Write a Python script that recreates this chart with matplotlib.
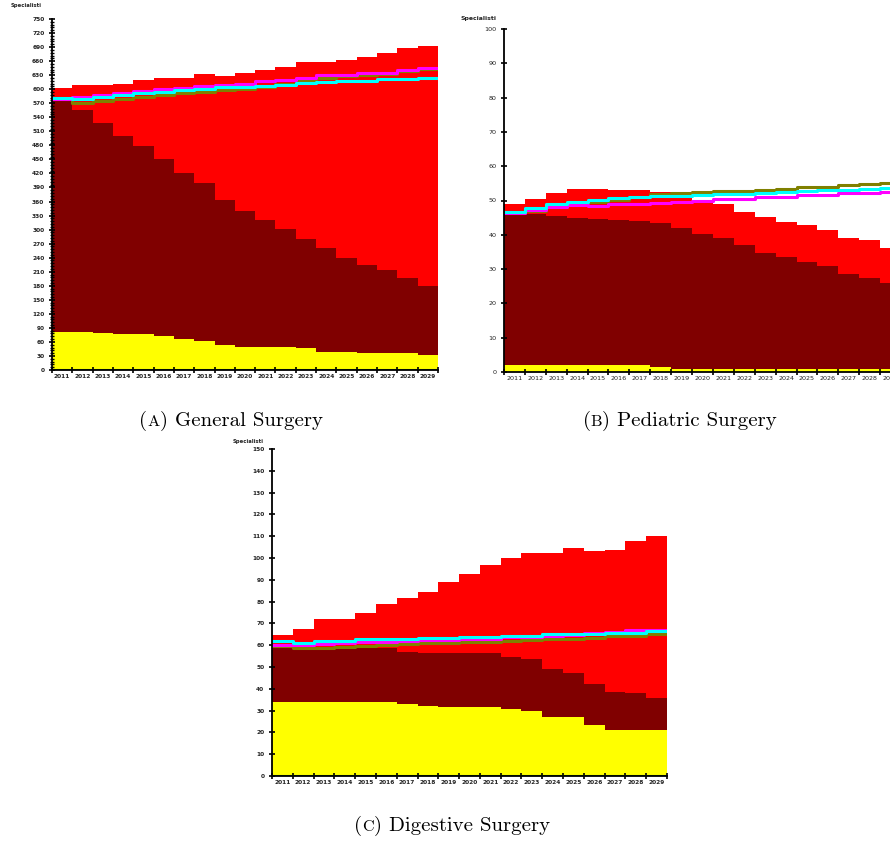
import numpy as np
import matplotlib
matplotlib.use("Agg")
import matplotlib.pyplot as plt
from matplotlib.ticker import MultipleLocator

years = [str(y) for y in range(2011, 2030)]

# General Surgery (specialists per year)
gen_yellow = [82, 82, 78, 76, 76, 73, 66, 63, 53, 49, 49, 49, 46, 39, 39, 36, 36, 36, 32]
gen_maroon = [578, 556, 528, 501, 479, 450, 422, 399, 363, 340, 321, 301, 280, 260, 240, 224, 214, 196, 179]
gen_red = [602, 608, 608, 612, 619, 625, 625, 632, 628, 635, 642, 648, 659, 659, 662, 668, 678, 689, 693]
gen_cyan = [582, 578, 584, 588, 591, 595, 598, 601, 604, 605, 607, 609, 613, 616, 617, 617, 622, 622, 625]
gen_olive = [578, 571, 575, 580, 584, 588, 592, 595, 598, 601, 605, 612, 620, 624, 628, 631, 633, 638, 643]
gen_magenta = [580, 584, 588, 592, 596, 600, 603, 606, 610, 612, 617, 619, 625, 630, 630, 635, 635, 641, 646]

# Pediatric Surgery
ped_yellow = [2, 2, 2, 2, 2, 2, 2, 1.5, 1, 1, 1, 1, 1, 1, 1, 1, 1, 1, 1]
ped_maroon = [46.2, 46.1, 45.6, 45.0, 44.6, 44.4, 43.9, 43.3, 41.9, 40.1, 39.2, 37.0, 34.7, 33.4, 32.1, 30.8, 28.7, 27.3, 26.0]
ped_red = [49.1, 50.3, 52.1, 53.4, 53.4, 53.0, 53.0, 52.5, 51.8, 49.6, 49.1, 46.7, 45.1, 43.7, 42.8, 41.5, 39.2, 38.4, 36.2]
ped_cyan = [46.7, 47.9, 48.9, 49.7, 50.2, 50.7, 51.1, 51.3, 51.4, 51.6, 51.9, 52.0, 52.3, 52.6, 52.8, 53.0, 53.2, 53.4, 53.6]
ped_olive = [46.5, 46.9, 48.1, 49.1, 49.5, 50.1, 50.9, 51.9, 52.2, 52.4, 52.8, 52.9, 53.2, 53.4, 53.8, 54.0, 54.4, 54.8, 55.1]
ped_magenta = [46.4, 47.1, 48.0, 48.6, 48.5, 48.9, 48.9, 49.2, 49.6, 50.0, 50.3, 50.5, 50.9, 51.1, 51.5, 51.7, 52.1, 52.3, 52.6]

# Digestive Surgery
dig_yellow = [33.8, 33.8, 33.8, 33.8, 33.8, 33.8, 33.2, 32.0, 31.8, 31.8, 31.8, 30.8, 30.0, 27.2, 27.2, 23.3, 21.1, 21.1, 21.1]
dig_maroon = [59.4, 59.4, 59.4, 59.4, 59.1, 58.6, 57.1, 56.3, 56.3, 56.3, 56.3, 54.8, 53.6, 49.3, 47.4, 42.1, 38.6, 38.0, 36.0]
dig_red = [64.9, 67.5, 72.2, 72.2, 75.0, 79.0, 81.6, 84.3, 89.1, 92.6, 96.6, 99.8, 102.5, 102.5, 104.4, 103.2, 103.8, 107.7, 110.0]
dig_cyan = [61.8, 60.9, 61.8, 61.8, 62.7, 62.7, 62.7, 63.4, 63.4, 63.7, 63.7, 64.4, 64.4, 65.2, 65.2, 65.2, 65.8, 65.8, 66.6]
dig_olive = [59.5, 58.5, 58.5, 59.4, 59.7, 60.1, 60.6, 60.9, 60.9, 61.5, 61.5, 62.1, 62.4, 62.9, 62.9, 63.4, 64.0, 64.2, 65.1]
dig_magenta = [60.0, 60.3, 60.5, 60.9, 61.4, 61.4, 61.7, 62.2, 62.4, 62.8, 63.0, 63.6, 63.8, 64.4, 64.6, 65.6, 66.0, 66.9, 67.0]

W, H = 890, 842
fig = plt.figure(figsize=(W / 100, H / 100), dpi=100)


def px_axes(x0, x1, y_top, y_bottom):
    # axes box given in pixel coordinates measured from the top-left corner
    return fig.add_axes([x0 / W, (H - y_bottom) / H, (x1 - x0) / W, (y_bottom - y_top) / H])


def steps(vals):
    return np.append(vals, vals[-1])


def draw_panel(ax, yellow, maroon, red, cyan, olive, magenta, ymax, ystep, yminor,
               zero_line, lab_size, bold):
    x = np.arange(len(years) + 1)
    ax.fill_between(x, 0, steps(yellow), step="post", color="#ffff00", lw=0)
    ax.fill_between(x, steps(yellow), steps(maroon), step="post", color="#800000", lw=0)
    ax.fill_between(x, steps(maroon), steps(red), step="post", color="#ff0000", lw=0)
    if zero_line:
        ax.plot([0, len(years)], [0, 0], color="#008000", lw=2.2, zorder=3)
    ax.step(x, steps(olive), where="post", color="#808000", lw=2.2, zorder=4)
    ax.step(x, steps(magenta), where="post", color="#ff00ff", lw=2.2, zorder=5)
    ax.step(x, steps(cyan), where="post", color="#00ffff", lw=2.2, zorder=6)

    ax.set_xlim(0, len(years))
    ax.set_ylim(0, ymax)
    for s in ["top", "right"]:
        ax.spines[s].set_visible(False)
    for s in ["left", "bottom"]:
        ax.spines[s].set_linewidth(1.3)
        ax.spines[s].set_zorder(7)

    weight = "bold" if bold else "normal"
    ax.set_xticks(np.arange(len(years) + 1))
    ax.set_xticklabels([])
    ax.set_xticks(np.arange(len(years)) + 0.5, minor=True)
    ax.set_xticklabels(years, minor=True, fontsize=lab_size, fontweight=weight, color="#222222")
    ax.tick_params(axis="x", which="major", direction="inout", length=5, width=1.2)
    ax.tick_params(axis="x", which="minor", length=0, pad=3)

    ax.yaxis.set_major_locator(MultipleLocator(ystep))
    if yminor:
        ax.yaxis.set_minor_locator(MultipleLocator(yminor))
        ax.tick_params(axis="y", which="minor", direction="inout", length=3, width=1)
    ax.tick_params(axis="y", which="major", direction="inout", length=5, width=1.2,
                   labelsize=lab_size, pad=3)
    for t in ax.get_yticklabels():
        t.set_fontweight(weight)
        t.set_color("#222222")
    ax.patch.set_alpha(0)


ax_a = px_axes(52, 438, 19, 370)
draw_panel(ax_a, gen_yellow, gen_maroon, gen_red, gen_cyan, gen_olive, gen_magenta,
           750, 30, 6, True, 4.2, True)

ax_b = px_axes(504, 901, 29, 372)
draw_panel(ax_b, ped_yellow, ped_maroon, ped_red, ped_cyan, ped_olive, ped_magenta,
           100, 10, None, False, 4.6, False)

ax_c = px_axes(272, 667, 449, 776)
draw_panel(ax_c, dig_yellow, dig_maroon, dig_red, dig_cyan, dig_olive, dig_magenta,
           150, 10, None, True, 4.2, True)

# axis titles
fig.text(11 / W, (H - 7) / H, "Specialisti", fontsize=3.8, fontweight="bold", color="#222222")
fig.text(460 / W, (H - 20) / H, "Specialisti", fontsize=4.4, fontweight="bold", color="#222222")
fig.text(233 / W, (H - 443) / H, "Specialisti", fontsize=3.8, fontweight="bold", color="#222222")

# sub-figure captions with a small-caps letter
renderer = fig.canvas.get_renderer()


def caption(xc, y_base, letter, name, size=15):
    pieces = [("(", size), (letter, size * 0.78), (") " + name, size)]
    texts = []
    for s, fs in pieces:
        texts.append(fig.text(0, H - y_base, s, fontsize=fs, family="cmr10",
                              va="baseline", transform=None))
    widths = [t.get_window_extent(renderer).width for t in texts]
    x = xc - sum(widths) / 2
    for t, w in zip(texts, widths):
        t.set_x(x)
        x += w


caption(231, 426, "A", "General Surgery")
caption(680, 426, "B", "Pediatric Surgery")
caption(452, 831, "C", "Digestive Surgery")

fig.savefig("out.png", dpi=100)
